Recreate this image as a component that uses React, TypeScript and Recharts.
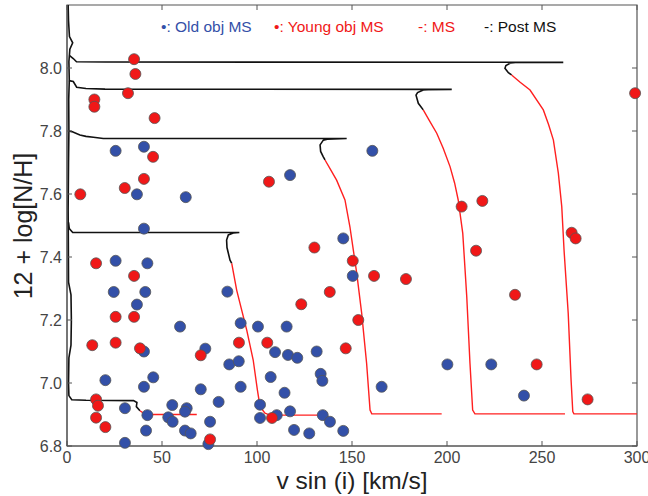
import {
  ComposedChart,
  Line,
  Scatter,
  XAxis,
  YAxis,
  ReferenceArea,
  Label,
} from 'recharts';

// [v sin i, 12 + log N/H]
const oldObjMs = [
  [40.5, 7.75], [25.6, 7.737], [36.8, 7.599], [62.5, 7.59], [40.5, 7.49],
  [25.6, 7.388], [42.3, 7.38], [24.6, 7.289], [41.2, 7.289], [36.8, 7.249],
  [59.5, 7.179], [40.5, 7.1], [72.8, 7.109], [20.2, 7.009], [45.4, 7.018],
  [40.5, 6.988], [70.4, 6.98], [79.8, 6.94], [30.5, 6.92], [55.4, 6.93],
  [42.3, 6.898], [53.3, 6.891], [55.6, 6.877], [63, 6.92], [62.1, 6.909],
  [41.6, 6.849], [62.1, 6.849], [65.1, 6.84], [75.3, 6.877], [30.5, 6.81],
  [74.4, 6.806], [84.4, 7.29], [91.4, 7.19], [100.5, 7.179], [115.6, 7.179],
  [109.5, 7.098], [116.3, 7.089], [121.2, 7.08], [85.4, 7.059], [90.4, 7.069],
  [107.2, 7.019], [91.4, 6.988], [114.5, 6.969], [101.6, 6.931], [117.4, 6.91],
  [110.4, 6.898], [101.6, 6.889], [119.5, 6.851], [127.5, 6.84], [134.6, 6.898],
  [138.4, 6.877], [145.4, 6.848], [165.6, 6.988], [240.5, 6.96], [145.4, 7.459],
  [150.4, 7.34], [131.4, 7.1], [133.5, 7.029], [134.4, 7.007], [200.2, 7.059],
  [223.3, 7.059], [160.7, 7.737], [117.4, 7.66],
];

const youngObjMs = [
  [35.3, 8.028], [36, 7.981], [32.1, 7.92], [14.4, 7.9], [14.4, 7.877],
  [46.1, 7.841], [45.3, 7.718], [40.5, 7.648], [30.4, 7.619], [7, 7.599],
  [15.3, 7.38], [35.3, 7.34], [25.6, 7.21], [35.3, 7.21], [13.3, 7.12],
  [25.6, 7.128], [38.4, 7.11], [70.4, 7.088], [15.3, 6.948], [16.3, 6.928],
  [15.3, 6.89], [20.2, 6.86], [75.3, 6.821], [123.3, 7.25], [90.5, 7.128],
  [105.4, 7.128], [107.9, 6.889], [274, 6.948], [130.2, 7.43], [150.4, 7.388],
  [161.6, 7.34], [178.4, 7.33], [138.3, 7.289], [153.3, 7.2], [146.7, 7.11],
  [247.2, 7.059], [215.3, 7.42], [235.8, 7.28], [265.6, 7.477], [267.7, 7.459],
  [299, 7.92], [207.7, 7.56], [218.6, 7.578], [106.3, 7.639],
];

// main sequence parts of the tracks (red)
const msTracks = [
  [[68.3, 6.9], [43.7, 6.9], [40, 6.905], [38.4, 6.912]],
  [[134, 6.898], [106.8, 6.898], [104.2, 6.904], [101.6, 6.925], [100.2, 6.978],
    [98, 7.073], [94.6, 7.168], [89.3, 7.295], [86.7, 7.38]],
  [[197.2, 6.902], [160.4, 6.902], [159.5, 6.914], [157.7, 7.062], [155.1, 7.221],
    [152.5, 7.348], [150.7, 7.422], [148.9, 7.496], [146.3, 7.581], [141.9, 7.644],
    [138.5, 7.68], [135.8, 7.708]],
  [[262.1, 6.902], [214.7, 6.902], [213.5, 6.914], [212.1, 7.062], [210.4, 7.274],
    [208.3, 7.475], [205.9, 7.581], [204, 7.635], [201.6, 7.687], [198, 7.745],
    [194.6, 7.793], [190.5, 7.835], [187.5, 7.867]],
  [[300, 6.902], [266.8, 6.902], [266.2, 6.909], [265.3, 7.01], [263.8, 7.221],
    [261.6, 7.422], [260.4, 7.56], [258.6, 7.666], [256, 7.771], [253.5, 7.82],
    [250.7, 7.867], [243.7, 7.93], [238.5, 7.955], [234, 7.978]],
];

// post main sequence parts (black)
const postMsTracks = [
  [[38.4, 6.912], [36.5, 6.925], [36.8, 6.938], [35, 6.944], [10, 6.945],
    [2.5, 6.947], [1, 6.96], [0.8, 7.0], [1, 7.08], [2.1, 7.12], [2.3, 7.2],
    [2.1, 7.28], [0.8, 7.32], [0.7, 7.45], [0.6, 7.55], [0.8, 7.7], [1, 7.8],
    [0.9, 7.9], [1.2, 7.96], [1, 8.02], [1.5, 8.06], [3, 8.08], [1.3, 8.1],
    [0.8, 8.15], [0.6, 8.2]],
  [[0.8, 7.51], [1.2, 7.49], [3, 7.478], [90.7, 7.478], [87.5, 7.476],
    [84.9, 7.47], [84, 7.454], [84.2, 7.43], [85.8, 7.39], [86.7, 7.38]],
  [[1, 7.8], [2.5, 7.798], [6.8, 7.787], [10, 7.783], [13.9, 7.78], [19.1, 7.776],
    [147.2, 7.776], [137, 7.774], [134.9, 7.771], [133.2, 7.756], [133.5, 7.735],
    [134.9, 7.718], [135.8, 7.708]],
  [[1, 7.96], [3.3, 7.957], [5.1, 7.939], [10, 7.935], [20, 7.933], [202.5, 7.932],
    [190, 7.931], [187.5, 7.93], [184.5, 7.922], [183.7, 7.914], [184.9, 7.888],
    [187.5, 7.867]],
  [[1.2, 8.04], [3.3, 8.03], [5, 8.02], [20, 8.019], [261.2, 8.018], [236, 8.017],
    [233.2, 8.015], [231, 8.008], [230.5, 7.999], [232.3, 7.985], [234, 7.978]],
];

const xTicks = [0, 50, 100, 150, 200, 250, 300];
const yTicks = [6.8, 7.0, 7.2, 7.4, 7.6, 7.8, 8.0];

const toPoints = (arr: number[][]) => arr.map(([v, nh]) => ({ v, nh }));

const W = 648;
const H = 496;
const LEFT = 67;
const RIGHT = 637;
const TOP = 5;
const BOTTOM = 446;
const FONT = '"Liberation Sans", Arial, sans-serif';

const XTick = (props: any) => {
  const { x, payload } = props;
  return (
    <g>
      <line x1={x} x2={x} y1={BOTTOM} y2={BOTTOM - 5} stroke='#555' />
      <line x1={x} x2={x} y1={TOP} y2={TOP + 5} stroke='#555' />
      <text x={x} y={463} textAnchor='middle' fontSize={16} fill='#444' fontFamily={FONT}>
        {payload.value}
      </text>
    </g>
  );
};

const YTick = (props: any) => {
  const { y, payload } = props;
  return (
    <g>
      <line x1={LEFT} x2={LEFT + 5} y1={y} y2={y} stroke='#555' />
      <line x1={RIGHT} x2={RIGHT - 5} y1={y} y2={y} stroke='#555' />
      <text x={62} y={y + 5.5} textAnchor='end' fontSize={16} fill='#444' fontFamily={FONT}>
        {Number(payload.value).toFixed(1)}
      </text>
    </g>
  );
};

const dot = (fill: string) => (p: any) =>
  <circle cx={p.cx} cy={p.cy} r={5.5} fill={fill} stroke='#555' strokeWidth={0.8} />;

const legendItems = [
  { text: '\u2022: Old obj MS', color: '#3350a8', left: 161 },
  { text: '\u2022: Young obj MS', color: '#f01818', left: 274 },
  { text: '-: MS', color: '#f01818', left: 418 },
  { text: '-: Post MS', color: '#111', left: 484 },
];

export default function App() {
  return (
    <div style={{ position: 'relative', width: W, height: H, fontFamily: FONT }}>
      <style>{'body{margin:0}'}</style>
      <ComposedChart
        width={W}
        height={H}
        margin={{ top: TOP, right: W - RIGHT, bottom: 0, left: 7 }}
      >
        <XAxis
          dataKey='v'
          type='number'
          domain={[0, 300]}
          ticks={xTicks}
          interval={0}
          height={50}
          stroke='#555'
          tickLine={false}
          tick={<XTick />}
          label={
            <Label
              content={() => (
                <text x={352} y={489} textAnchor='middle' fontSize={24.5} fill='#222' fontFamily={FONT}>
                  v sin (i) [km/s]
                </text>
              )}
            />
          }
        />
        <YAxis
          dataKey='nh'
          type='number'
          domain={[6.8, 8.2]}
          ticks={yTicks}
          interval={0}
          width={60}
          stroke='#555'
          tickLine={false}
          tick={<YTick />}
          label={
            <Label
              content={() => (
                <text
                  transform='translate(32,226) rotate(-90)'
                  textAnchor='middle'
                  fontSize={25}
                  fill='#222'
                  fontFamily={FONT}
                >
                  12 + log[N/H]
                </text>
              )}
            />
          }
        />
        <ReferenceArea x1={0} x2={300} y1={6.8} y2={8.2} fill='none' stroke='#555' strokeWidth={1.2} />
        {postMsTracks.map((t, i) => (
          <Line
            key={'p' + i}
            data={toPoints(t)}
            dataKey='nh'
            type='linear'
            stroke='#111'
            strokeWidth={1.6}
            dot={false}
            activeDot={false}
            isAnimationActive={false}
          />
        ))}
        {msTracks.map((t, i) => (
          <Line
            key={'m' + i}
            data={toPoints(t)}
            dataKey='nh'
            type='linear'
            stroke='#ff2020'
            strokeWidth={1.4}
            dot={false}
            activeDot={false}
            isAnimationActive={false}
          />
        ))}
        <Scatter data={toPoints(oldObjMs)} shape={dot('#3350a8')} isAnimationActive={false} />
        <Scatter data={toPoints(youngObjMs)} shape={dot('#f01818')} isAnimationActive={false} />
      </ComposedChart>
      {legendItems.map((it) => (
        <span
          key={it.text}
          style={{
            position: 'absolute',
            left: it.left,
            top: 18,
            fontSize: 15.5,
            color: it.color,
            whiteSpace: 'nowrap',
          }}
        >
          {it.text}
        </span>
      ))}
    </div>
  );
}
